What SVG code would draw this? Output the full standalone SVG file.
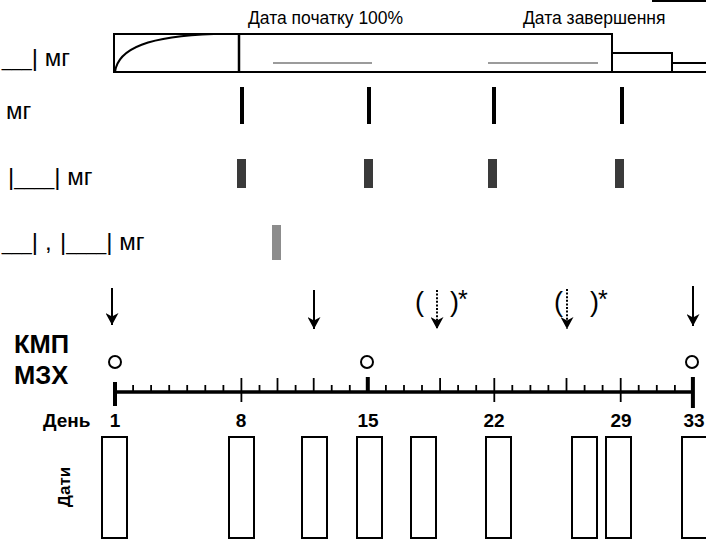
<svg xmlns="http://www.w3.org/2000/svg" width="706" height="541" viewBox="0 0 706 541">
  <style>
    .lbl { font-family: "Liberation Sans", Arial, sans-serif; font-size: 24px; fill: #000; }
    .us { font-size: 18px; }
    .hdr { font-family: "Liberation Sans", Arial, sans-serif; font-size: 17.5px; fill: #000; }
    .bold { font-family: "Liberation Sans", Arial, sans-serif; font-weight: bold; fill: #000; }
    .paren { font-family: "Liberation Sans", Arial, sans-serif; font-size: 27px; fill: #000; }
    .star { font-family: "Liberation Sans", Arial, sans-serif; font-size: 25px; fill: #000; }
    .outline { fill: #fff; stroke: #000; stroke-width: 2; }
    .box { fill: #fff; stroke: #000; stroke-width: 2; }
    .dose { fill: #000; }
    .dose2 { fill: #3a3a3a; }
    .dose3 { fill: #8c8c8c; }
    .guide { stroke: #7a7a7a; stroke-width: 1.5; }
    .tick { stroke: #000; stroke-width: 1.8; }
    .thick { stroke: #000; stroke-width: 4; }
    .circ { fill: #fff; stroke: #000; stroke-width: 2; }
    .arrow { stroke: #000; stroke-width: 2; fill: none; }
    .dotted { stroke-dasharray: 2 1.6; }
  </style>
  <defs>
    <marker id="headDown" markerWidth="13" markerHeight="15" refX="6.5" refY="14" markerUnits="userSpaceOnUse" viewBox="0 0 13 15">
      <path d="M0,2 L6.5,14 L13,2 L6.5,5.5 Z" fill="#000"/>
    </marker>
  </defs>

  <!-- left-hand dose labels -->
  <g id="labels-left">
    <text class="lbl" x="70" y="66" text-anchor="end"><tspan class="us">___</tspan>| мг</text>
    <text class="lbl" x="6" y="119">мг</text>
    <text class="lbl" x="8" y="185">|<tspan class="us">____</tspan>| мг</text>
    <text class="lbl" x="38" y="250" text-anchor="end"><tspan class="us">___</tspan>|</text>
    <text class="lbl" x="45" y="250">,</text>
    <text class="lbl" x="60" y="250">|<tspan class="us">____</tspan>| мг</text>
  </g>

  <!-- dosing schedule bar at the top -->
  <g id="schedule">
    <line x1="652" y1="1" x2="706" y2="1" stroke="#000" stroke-width="2"/>
    <text class="hdr" x="248" y="24">Дата початку 100%</text>
    <text class="hdr" x="523" y="24">Дата завершення</text>
    <rect class="outline" x="114" y="34" width="498" height="38"/>
    <path d="M115,72 C118,48 150,36 214,34" fill="none" stroke="#000" stroke-width="2"/>
    <line x1="239" y1="34" x2="239" y2="72" stroke="#000" stroke-width="2.5"/>
    <polyline points="612,72 612,53 672,53 672,72" fill="none" stroke="#000" stroke-width="2"/>
    <polyline points="672,72 672,63 706,63" fill="none" stroke="#000" stroke-width="2"/>
    <line x1="612" y1="72" x2="706" y2="72" stroke="#000" stroke-width="2"/>
    <line class="guide" x1="273" y1="63" x2="372" y2="63"/>
    <line class="guide" x1="488" y1="63" x2="598" y2="63"/>
  </g>

  <!-- dose markers, row 2 -->
  <g id="dose-row-2">
    <rect class="dose" x="240" y="87" width="4" height="37"/>
    <rect class="dose" x="367" y="87" width="4" height="37"/>
    <rect class="dose" x="492" y="87" width="4" height="37"/>
    <rect class="dose" x="620" y="87" width="4" height="37"/>
  </g>

  <!-- dose markers, row 3 -->
  <g id="dose-row-3">
    <rect class="dose2" x="237" y="159" width="9" height="29"/>
    <rect class="dose2" x="364" y="159" width="9" height="29"/>
    <rect class="dose2" x="488" y="159" width="9" height="29"/>
    <rect class="dose2" x="615" y="159" width="9" height="29"/>
  </g>

  <!-- dose marker, row 4 -->
  <g id="dose-row-4">
    <rect class="dose3" x="272" y="225" width="9" height="35"/>
  </g>

  <!-- assessment arrows -->
  <g id="connectors">
    <line class="arrow" x1="112" y1="288" x2="112" y2="325" marker-end="url(#headDown)"/>
    <line class="arrow" x1="314" y1="290" x2="314" y2="329" marker-end="url(#headDown)"/>
    <line class="arrow" x1="693" y1="286" x2="693" y2="326" marker-end="url(#headDown)"/>
    <line class="arrow dotted" x1="437" y1="290" x2="437" y2="329" marker-end="url(#headDown)"/>
    <line class="arrow dotted" x1="567" y1="289" x2="567" y2="329" marker-end="url(#headDown)"/>
  </g>

  <!-- optional assessment brackets -->
  <g id="optional-marks">
    <text class="paren" x="415" y="311">(</text>
    <text class="paren" x="450" y="311">)</text>
    <text class="star" x="458" y="308">*</text>
    <text class="paren" x="554" y="311">(</text>
    <text class="paren" x="590" y="311">)</text>
    <text class="star" x="598" y="308">*</text>
  </g>

  <!-- row headings -->
  <g id="headings">
    <text class="bold" x="14" y="353" style="font-size:25.5px">КМП</text>
    <text class="bold" x="14" y="384" style="font-size:25.5px">МЗХ</text>
  </g>

  <!-- assessment circles -->
  <g id="circles">
    <circle class="circ" cx="115" cy="362" r="6"/>
    <circle class="circ" cx="367" cy="362" r="6"/>
    <circle class="circ" cx="692" cy="362" r="6"/>
  </g>

  <!-- day axis -->
  <g id="axis">
    <line x1="115" y1="392" x2="693" y2="392" stroke="#000" stroke-width="3.5"/>
    <g class="tick">
      <line x1="133.1" y1="385" x2="133.1" y2="392"/>
      <line x1="151.1" y1="385" x2="151.1" y2="392"/>
      <line x1="169.2" y1="385" x2="169.2" y2="392"/>
      <line x1="187.2" y1="385" x2="187.2" y2="392"/>
      <line x1="205.3" y1="385" x2="205.3" y2="392"/>
      <line x1="223.4" y1="385" x2="223.4" y2="392"/>
      <line x1="259.5" y1="385" x2="259.5" y2="392"/>
      <line x1="295.6" y1="385" x2="295.6" y2="392"/>
      <line x1="331.7" y1="385" x2="331.7" y2="392"/>
      <line x1="349.8" y1="385" x2="349.8" y2="392"/>
      <line x1="385.9" y1="385" x2="385.9" y2="392"/>
      <line x1="404.0" y1="385" x2="404.0" y2="392"/>
      <line x1="422.0" y1="385" x2="422.0" y2="392"/>
      <line x1="458.1" y1="385" x2="458.1" y2="392"/>
      <line x1="476.2" y1="385" x2="476.2" y2="392"/>
      <line x1="512.3" y1="385" x2="512.3" y2="392"/>
      <line x1="530.4" y1="385" x2="530.4" y2="392"/>
      <line x1="548.4" y1="385" x2="548.4" y2="392"/>
      <line x1="584.6" y1="385" x2="584.6" y2="392"/>
      <line x1="602.6" y1="385" x2="602.6" y2="392"/>
      <line x1="638.7" y1="385" x2="638.7" y2="392"/>
      <line x1="656.8" y1="385" x2="656.8" y2="392"/>
      <line x1="674.9" y1="385" x2="674.9" y2="392"/>
      <line x1="277.5" y1="378" x2="277.5" y2="392"/>
      <line x1="313.7" y1="378" x2="313.7" y2="392"/>
      <line x1="440.1" y1="378" x2="440.1" y2="392"/>
      <line x1="566.5" y1="378" x2="566.5" y2="392"/>
      <line x1="241.4" y1="378" x2="241.4" y2="402"/>
      <line x1="494.3" y1="378" x2="494.3" y2="402"/>
      <line x1="620.7" y1="378" x2="620.7" y2="402"/>
    </g>
    <g class="thick">
      <line x1="115" y1="382" x2="115" y2="406"/>
      <line x1="367.8" y1="377" x2="367.8" y2="393"/>
      <line x1="692.9" y1="377" x2="692.9" y2="408"/>
    </g>
  </g>

  <!-- day numbers -->
  <g id="day-labels">
    <text class="bold" x="43" y="427" style="font-size:19px">День</text>
    <text class="bold" x="115" y="427" text-anchor="middle" style="font-size:19px">1</text>
    <text class="bold" x="241" y="427" text-anchor="middle" style="font-size:19px">8</text>
    <text class="bold" x="368" y="427" text-anchor="middle" style="font-size:19px">15</text>
    <text class="bold" x="494" y="427" text-anchor="middle" style="font-size:19px">22</text>
    <text class="bold" x="621" y="427" text-anchor="middle" style="font-size:19px">29</text>
    <text class="bold" x="694" y="427" text-anchor="middle" style="font-size:19px">33</text>
  </g>

  <!-- date entry boxes -->
  <g id="date-boxes">
    <text class="bold" transform="translate(70 487) rotate(-90)" text-anchor="middle" style="font-size:17px">Дати</text>
    <rect class="box" x="102" y="437" width="25" height="101"/>
    <rect class="box" x="229" y="437" width="25" height="101"/>
    <rect class="box" x="302" y="437" width="25" height="101"/>
    <rect class="box" x="357" y="437" width="25" height="101"/>
    <rect class="box" x="411" y="437" width="25" height="101"/>
    <rect class="box" x="486" y="437" width="25" height="101"/>
    <rect class="box" x="572" y="437" width="25" height="101"/>
    <rect class="box" x="606" y="437" width="25" height="101"/>
    <rect class="box" x="682" y="437" width="25" height="101"/>
  </g>
</svg>
